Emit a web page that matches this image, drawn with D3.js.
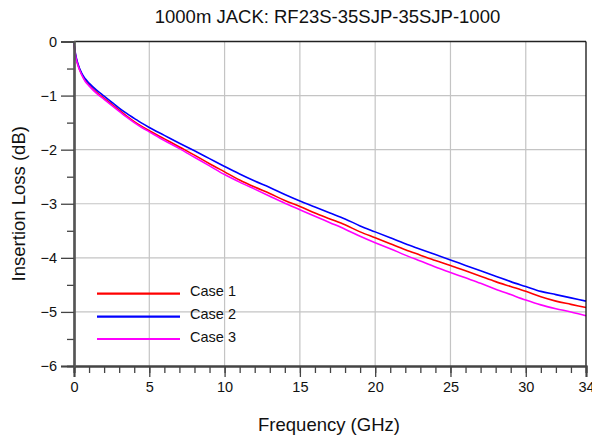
<!DOCTYPE html>
<html>
<head>
<meta charset="utf-8">
<script src="https://cdn.jsdelivr.net/npm/d3@7"></script>
<style>
  html, body { margin: 0; padding: 0; background: #fff; }
  svg { display: block; font-family: "Liberation Sans", Arial, sans-serif; }
</style>
</head>
<body>
<svg id="chart" width="592" height="442"></svg>
<script>
// ---- data ----
const titleText = "1000m JACK: RF23S-35SJP-35SJP-1000";
const xLabel = "Frequency (GHz)";
const yLabel = "Insertion Loss (dB)";
const seriesNames = ["Case 1", "Case 2", "Case 3"];
const seriesColors = ["#ff0000", "#0000ff", "#ff00ff"];
const freq = [0, 0.1, 0.25, 0.5, 0.75, 1, 1.5, 2, 2.5, 3, 3.5, 4, 4.5, 5, 6, 7, 8, 9, 10, 11, 12, 13, 14, 15, 16, 17, 18, 19, 20, 21, 22, 23, 24, 25, 26, 27, 28, 29, 30, 31, 32, 33, 34];
const case1 = [-0.04, -0.25, -0.42, -0.60, -0.72, -0.80, -0.94, -1.05, -1.16, -1.27, -1.38, -1.48, -1.57, -1.65, -1.80, -1.95, -2.10, -2.26, -2.41, -2.56, -2.69, -2.81, -2.94, -3.05, -3.17, -3.28, -3.39, -3.52, -3.63, -3.74, -3.85, -3.95, -4.05, -4.14, -4.24, -4.34, -4.44, -4.53, -4.62, -4.72, -4.80, -4.86, -4.92];
const case2 = [-0.03, -0.23, -0.40, -0.58, -0.69, -0.77, -0.90, -1.01, -1.12, -1.23, -1.33, -1.42, -1.51, -1.59, -1.735, -1.88, -2.02, -2.165, -2.31, -2.45, -2.58, -2.70, -2.83, -2.95, -3.06, -3.17, -3.28, -3.41, -3.52, -3.63, -3.74, -3.84, -3.94, -4.04, -4.14, -4.24, -4.34, -4.44, -4.53, -4.62, -4.68, -4.74, -4.80];
const case3 = [-0.05, -0.26, -0.43, -0.61, -0.74, -0.82, -0.96, -1.07, -1.18, -1.29, -1.40, -1.50, -1.59, -1.67, -1.83, -1.98, -2.14, -2.30, -2.46, -2.60, -2.73, -2.86, -2.99, -3.11, -3.23, -3.35, -3.47, -3.60, -3.72, -3.83, -3.95, -4.06, -4.17, -4.27, -4.37, -4.47, -4.58, -4.68, -4.78, -4.87, -4.94, -5.00, -5.07];
const xMajorTicks = [0, 5, 10, 15, 20, 25, 30, 34];
const xMinorTicks = d3.range(0, 35, 1);
const yMajorTicks = [0, -1, -2, -3, -4, -5, -6];
const yMinorTicks = [-0.5, -1.5, -2.5, -3.5, -4.5, -5.5];
const xGrid = [5, 10, 15, 20, 25, 30];
const yGrid = [-1, -2, -3, -4, -5];

// ---- layout ----
const W = 592, H = 442;
const m = { left: 74, top: 41.5, right: 6, bottom: 76 };
const pw = W - m.left - m.right, ph = H - m.top - m.bottom;
const svg = d3.select("#chart");
const x = d3.scaleLinear().domain([0, 34]).range([m.left, m.left + pw]);
const y = d3.scaleLinear().domain([-6, 0]).range([m.top + ph, m.top]);

// grid
const grid = svg.append("g");
grid.selectAll("line.gx").data(xGrid).join("line")
  .attr("x1", d => x(d)).attr("x2", d => x(d))
  .attr("y1", m.top).attr("y2", m.top + ph)
  .attr("stroke", "#c4c4c4").attr("stroke-width", 1.2);
grid.selectAll("line.gy").data(yGrid).join("line")
  .attr("x1", m.left).attr("x2", m.left + pw)
  .attr("y1", d => y(d)).attr("y2", d => y(d))
  .attr("stroke", "#c4c4c4").attr("stroke-width", 1.2);

// curves
const series = [case1, case2, case3];
const line = d3.line().curve(d3.curveMonotoneX)
  .x((d, i) => x(freq[i])).y(d => y(d));
svg.append("g").selectAll("path").data(series).join("path")
  .attr("d", d => line(d))
  .attr("fill", "none")
  .attr("stroke", (d, i) => seriesColors[i])
  .attr("stroke-width", 1.6);

// frame: top & right
svg.append("line").attr("x1", m.left).attr("x2", m.left + pw).attr("y1", m.top).attr("y2", m.top)
  .attr("stroke", "#222").attr("stroke-width", 1.3);
svg.append("line").attr("x1", m.left + pw).attr("x2", m.left + pw).attr("y1", m.top).attr("y2", m.top + ph)
  .attr("stroke", "#111").attr("stroke-width", 1.3);

// x axis
const xAxisMinor = d3.axisBottom(x).tickValues(xMinorTicks).tickSize(7).tickFormat("");
const xAxisMajor = d3.axisBottom(x).tickValues(xMajorTicks).tickSize(11).tickPadding(5).tickFormat(d3.format("d"));
const gxm = svg.append("g").attr("transform", `translate(0,${m.top + ph})`).call(xAxisMinor);
const gx = svg.append("g").attr("transform", `translate(0,${m.top + ph})`).call(xAxisMajor);
[gxm, gx].forEach(g => {
  g.select(".domain").attr("stroke", "#444").attr("stroke-width", 2);
  g.selectAll(".tick line").attr("stroke", "#444").attr("stroke-width", 1.3);
});
gx.selectAll(".tick text").attr("font-size", 14.5).attr("fill", "#111")
  .attr("font-family", "Liberation Sans, Arial, sans-serif");

// y axis
const yAxisMinor = d3.axisLeft(y).tickValues(yMinorTicks).tickSize(7).tickFormat("");
const yAxisMajor = d3.axisLeft(y).tickValues(yMajorTicks).tickSize(13).tickPadding(4).tickFormat(d3.format("d"));
const gym = svg.append("g").attr("transform", `translate(${m.left},0)`).call(yAxisMinor);
const gy = svg.append("g").attr("transform", `translate(${m.left},0)`).call(yAxisMajor);
[gym, gy].forEach(g => {
  g.select(".domain").attr("stroke", "#555").attr("stroke-width", 2.2);
  g.selectAll(".tick line").attr("stroke", "#444").attr("stroke-width", 1.3);
});
gy.selectAll(".tick text").attr("font-size", 14.5).attr("fill", "#111")
  .attr("font-family", "Liberation Sans, Arial, sans-serif");

// title & labels
svg.append("text").attr("x", 327.5).attr("y", 22.5).attr("text-anchor", "middle")
  .attr("font-size", 18.5).attr("fill", "#111").text(titleText);
svg.append("text").attr("x", 329).attr("y", 431).attr("text-anchor", "middle")
  .attr("font-size", 18.5).attr("fill", "#111").text(xLabel);
svg.append("text").attr("transform", `translate(25,${m.top + ph / 2}) rotate(-90)`)
  .attr("text-anchor", "middle").attr("font-size", 18.5).attr("fill", "#111").text(yLabel);

// legend
const legend = svg.append("g");
const legY = [293.7, 316.7, 339];
seriesNames.forEach((name, i) => {
  legend.append("line").attr("x1", 97).attr("x2", 180).attr("y1", legY[i]).attr("y2", legY[i])
    .attr("stroke", seriesColors[i]).attr("stroke-width", 2.2);
  legend.append("text").attr("x", 190).attr("y", legY[i] + 2.5)
    .attr("font-size", 14.5).attr("fill", "#111").text(name);
});
</script>
</body>
</html>
